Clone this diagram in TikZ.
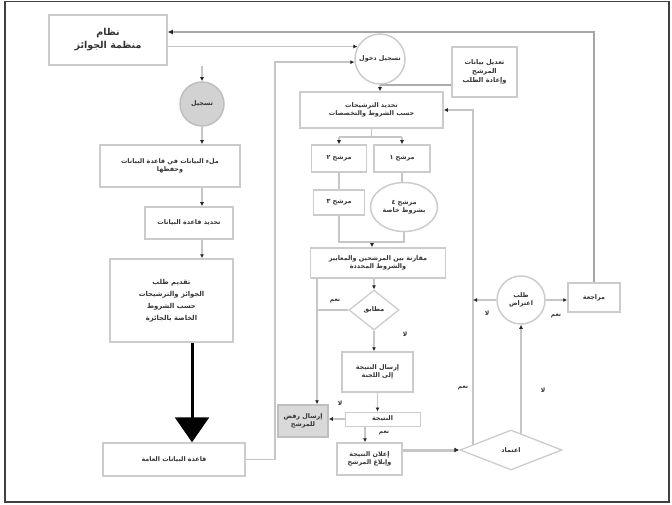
\documentclass[tikz,border=0pt]{standalone}
\usepackage{fontspec}
\newfontfamily\arabicfont[Script=Arabic]{DejaVu Sans}
\TeXXeTstate=1
\usetikzlibrary{arrows.meta,shapes.geometric,calc}
\pgfdeclarelayer{bg}
\pgfsetlayers{bg,main}
\newcommand{\ar}[1]{\beginR #1\endR}
\begin{document}
\begin{tikzpicture}[x=1pt,y=-1pt,
  every node/.style={font=\arabicfont\bfseries\fontsize{6.4}{8}\selectfont, text=black!80, align=center, inner sep=1pt},
  bx/.style={draw=gray!40, line width=1.5pt, fill=white, rectangle},
  gbx/.style={draw=gray!50, line width=1.5pt, fill=gray!30, rectangle},
  crc/.style={draw=gray!40, line width=1.5pt, fill=white, circle},
  dia/.style={draw=gray!40, line width=1.3pt, fill=white, diamond, aspect=1.25, inner sep=0pt},
  lab/.style={font=\arabicfont\bfseries\fontsize{6}{7}\selectfont},
  con/.style={draw=gray!45, line width=1.4pt},
  arr/.style={con, -{Latex[length=4pt,width=4pt,black!85]}}
]
\useasboundingbox (0,0) rectangle (672,505);
\draw[black!75, line width=1.5pt] (5,1.5) rectangle (669,502);

% helper coordinates
\coordinate (xa) at (202,0);
\coordinate (xb) at (192,0);
\coordinate (xl) at (275,0);
\coordinate (ytop) at (0,32);
\coordinate (yj) at (0,85);
\coordinate (y137) at (0,137);
\coordinate (y242) at (0,242);
\coordinate (xm) at (372,0);
\coordinate (x317) at (317,0);
\coordinate (x365) at (365,0);
\coordinate (x473) at (473,0);
\coordinate (x521) at (521,0);

% left column
\node[bx, minimum width=118pt, minimum height=50pt, font=\arabicfont\bfseries\fontsize{9.5}{13}\selectfont] (tl) at (108,40) {\ar{نظام}\\\ar{منظمة الجوائز}};
\node[circle, draw=gray!50, line width=1.5pt, fill=gray!35, minimum size=44pt] (cL) at (202,104) {\ar{تسجيل}};
\node[bx, minimum width=140pt, minimum height=42pt] (b1) at (170,166) {\ar{ملء البيانات في قاعدة البيانات}\\\ar{وحفظها}};
\node[bx, minimum width=88pt, minimum height=32pt] (b2) at (189,223) {\ar{تحديد قاعدة البيانات}};
\node[bx, minimum width=123pt, minimum height=83pt, font=\arabicfont\bfseries\fontsize{6.8}{12}\selectfont] (b3) at (171.5,300.5) {\ar{تقديم طلب}\\\ar{الجوائز والترشيحات}\\\ar{حسب الشروط}\\\ar{الخاصة بالجائزة}};
\node[bx, minimum width=142pt, minimum height=33pt] (b4) at (174,459.5) {\ar{قاعدة البيانات العامة}};

% centre column
\node[crc, minimum size=50pt] (cT) at (380,59) {\ar{تسجيل دخول}};
\node[bx, minimum width=65pt, minimum height=50pt, font=\arabicfont\bfseries\fontsize{6.6}{9}\selectfont] (trb) at (484.5,72) {\ar{تعديل بيانات}\\\ar{المرشح}\\\ar{وإعادة الطلب}};
\node[bx, minimum width=143pt, minimum height=36pt] (mb) at (371.5,110) {\ar{تحديد الترشيحات}\\\ar{حسب الشروط والتخصصات}};
\node[bx, minimum width=55pt, minimum height=27pt] (bA) at (339,158.5) {\ar{مرشح ٢}};
\node[bx, minimum width=56pt, minimum height=27pt] (bB) at (402,158.5) {\ar{مرشح ١}};
\node[bx, minimum width=51pt, minimum height=25pt] (bC) at (339,202.5) {\ar{مرشح ٣}};
\node[ellipse, draw=gray!40, line width=1.5pt, fill=white, minimum width=67pt, minimum height=49pt, inner sep=0pt] (eD) at (404,207) {\ar{مرشح ٤}\\\ar{بشروط خاصة}};
\node[bx, minimum width=135pt, minimum height=30pt] (bE) at (378,263) {\ar{مقارنة بين المرشحين والمعايير}\\\ar{والشروط المحددة}};
\node[dia, minimum width=50pt, minimum height=40pt] (dF) at (374,310) {\ar{مطابق}};
\node[gbx, minimum width=50pt, minimum height=32pt] (bG) at (303,421) {\ar{إرسال رفض}\\\ar{للمرشح}};
\node[bx, minimum width=71pt, minimum height=40pt] (b5) at (377.5,372) {\ar{إرسال النتيجة}\\\ar{إلى اللجنة}};
\node[bx, line width=1pt, minimum width=75pt, minimum height=14pt, inner sep=0pt] (tb) at (382.5,419) {\ar{النتيجة}};
\node[bx, minimum width=65pt, minimum height=32pt] (b6) at (369.5,459) {\ar{إعلان النتيجة}\\\ar{وإبلاغ المرشح}};

% right part
\node[dia, minimum width=102pt, minimum height=40pt] (dB) at (511,450) {\ar{اعتماد}};
\node[crc, minimum size=48pt] (cR) at (521,300) {\ar{طلب}\\\ar{اعتراض}};
\node[bx, minimum width=52pt, minimum height=29pt] (rb) at (594,297.5) {\ar{مراجعة}};

% labels
\node[lab] (l1) at (335,301) {\ar{نعم}};
\node[lab] (l2) at (405,334) {\ar{لا}};
\node[lab] (l3) at (340,403) {\ar{لا}};
\node[lab] (l4) at (384,433) {\ar{نعم}};
\node[lab] (l5) at (463,388) {\ar{نعم}};
\node[lab] (l6) at (543,390) {\ar{لا}};
\node[lab] (l7) at (487,313) {\ar{لا}};
\node[lab] (l8) at (556,316) {\ar{نعم}};

\begin{pgfonlayer}{bg}
% top loop
\draw[con, draw=gray!70, line width=2.6pt, -{Latex[length=5pt,width=5pt,black!85]}] (rb.north) |- (tl.east |- ytop);
\draw[arr] (cT.151 -| tl.east) -- (cT.151);
\draw[arr] (b4.east) -| (cT.187 -| xl) -- (cT.187);
% left column
\draw[arr] (tl.south -| xa) -- (cL.north);
\draw[arr] (cL.south) -- (b1.north -| xa);
\draw[arr] (b1.south -| xa) -- (b2.north -| xa);
\draw[arr] (b2.south -| xa) -- (b3.north -| xa);
\draw[line width=3pt, black, -{Triangle[length=25pt,width=34pt]}] (b3.south -| xb) -- (b4.north -| xb);
% centre
\draw[arr] (cT.south) -- (cT.south |- mb.north);
\draw[con, draw=gray!65] (trb.west |- yj) -- (cT.south |- yj);
\draw[con] (mb.south) -- (mb.south |- y137);
\draw[con] (bA.north |- y137) -- (bB.north |- y137);
\draw[arr] (bA.north |- y137) -- (bA.north);
\draw[arr] (bB.north |- y137) -- (bB.north);
\draw[con] (bA.south) -- (bC.north);
\draw[con] (bB.south) -- (bB.south |- eD.north);
\draw[con] (bC.south) -- (bC.south |- y242) -- (eD.south |- y242) -- (eD.south);
\draw[arr] (xm |- y242) -- (xm |- bE.north);
\draw[arr] (dF.north |- bE.south) -- (dF.north);
\draw[con] (x317 |- bE.south) -- (x317 |- dF.west);
\draw[arr] (dF.west) -| (x317 |- bG.north);
\draw[arr] (dF.south) -- (dF.south |- b5.north);
\draw[arr] (b5.south) -- (b5.south |- tb.north);
\draw[arr] (tb.west) -- (tb.west -| bG.east);
\draw[arr] (x365 |- tb.south) -- (x365 |- b6.north);
\draw[con, draw=gray!45, line width=3pt, -{Latex[length=5pt,width=5pt,black!85]}] (b6.east |- dB.west) -- (dB.west);
% right
\draw[arr] (x473 |- dB.center) |- (mb.east);
\draw[arr] (x521 |- dB.center) -- (x521 |- cR.south);
\draw[arr] (cR.east) -- (cR.east -| rb.west);
\draw[arr] (cR.west) -- (cR.west -| x473);
\end{pgfonlayer}
\end{tikzpicture}
\end{document}
